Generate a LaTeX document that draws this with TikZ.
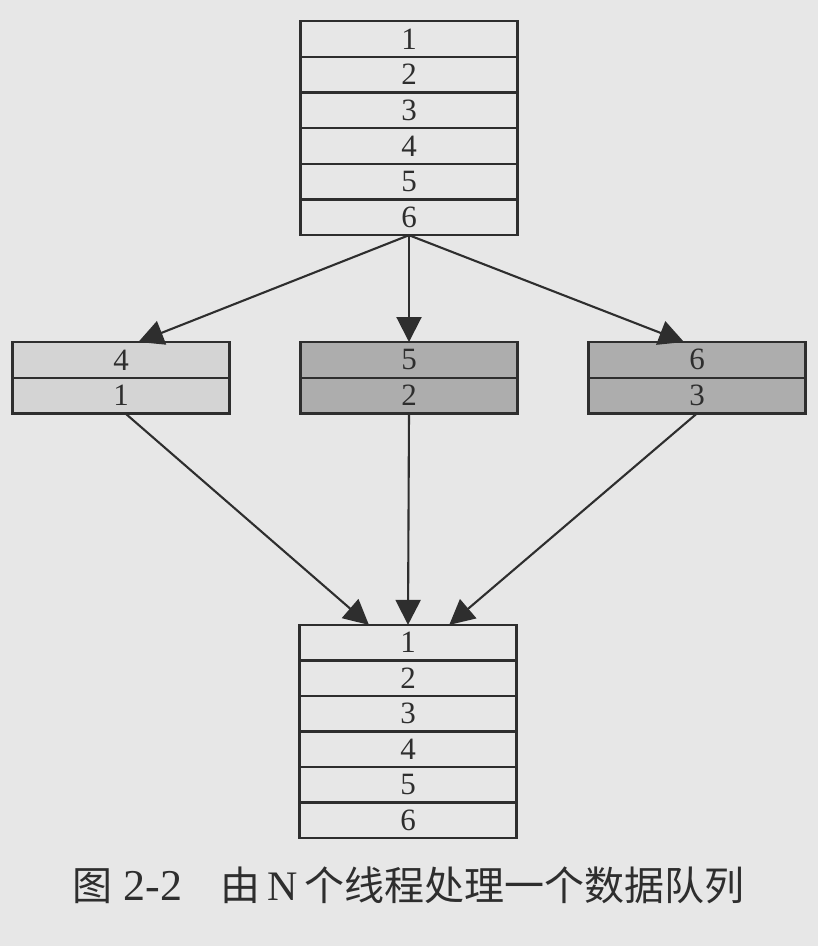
\documentclass[tikz,border=0pt]{standalone}
\usepackage{fontspec}
\setmainfont{Liberation Serif}
\newfontfamily\cjk{Noto Sans CJK SC}
\usetikzlibrary{arrows.meta,calc}
\definecolor{bgc}{HTML}{E7E7E7}
\definecolor{ink}{HTML}{2E2E2E}
\definecolor{lightfill}{HTML}{D4D4D4}
\definecolor{darkfill}{HTML}{ADADAD}
\tikzset{
  cell/.style={draw=ink, line width=2.3pt, minimum width=217pt, minimum height=35.7pt,
    inner sep=0pt, outer sep=0pt, text=ink, font=\fontsize{31}{31}\selectfont},
  lcell/.style={cell, fill=lightfill},
  dcell/.style={cell, fill=darkfill},
  conn/.style={draw=ink, line width=2.1pt, -{Triangle[length=25pt,width=25pt]}}
}
\begin{document}
\begin{tikzpicture}[x=1pt,y=1pt]
\fill[bgc] (0,0) rectangle (818,-946);
\useasboundingbox (0,0) rectangle (818,-946);
% top stack
\foreach \i in {1,...,6} {
  \node[cell] (t\i) at (409,{-21-17.85-35.7*(\i-1)}) {\i};
}
% bottom stack
\foreach \i in {1,...,6} {
  \node[cell] (b\i) at (408,{-625-17.75-35.5*(\i-1)}) {\i};
}
% middle boxes
\node[lcell] (l1) at (121,-359.85) {4};
\node[lcell] (l2) at (121,-395.55) {1};
\node[dcell] (m1) at (409,-359.85) {5};
\node[dcell] (m2) at (409,-395.55) {2};
\node[dcell] (r1) at (697,-359.85) {6};
\node[dcell] (r2) at (697,-395.55) {3};
% arrows top -> middle
\draw[conn] (t6.south) -- ($(l1.north west)!0.58!(l1.north east)$);
\draw[conn] (t6.south) -- (m1.north);
\draw[conn] (t6.south) -- ($(r1.north west)!0.44!(r1.north east)$);
% arrows middle -> bottom
\draw[conn] ($(l2.south west)!0.52!(l2.south east)$) -- ($(b1.north west)!0.32!(b1.north east)$);
\draw[conn] (m2.south) -- (b1.north);
\draw[conn] (r2.south) -- ($(b1.north west)!0.69!(b1.north east)$);
% caption
\node[text=ink, font=\fontsize{40}{40}\selectfont, inner sep=0pt] (cap) at (408.5,-885)
  {{\cjk 图}\hspace{11pt}{\fontsize{44}{44}\selectfont 2-2}\hspace{38pt}{\cjk 由}\hspace{7pt}{\fontsize{42}{42}\selectfont N}\hspace{7pt}{\cjk 个线程处理一个数据队列}};
\end{tikzpicture}
\end{document}
